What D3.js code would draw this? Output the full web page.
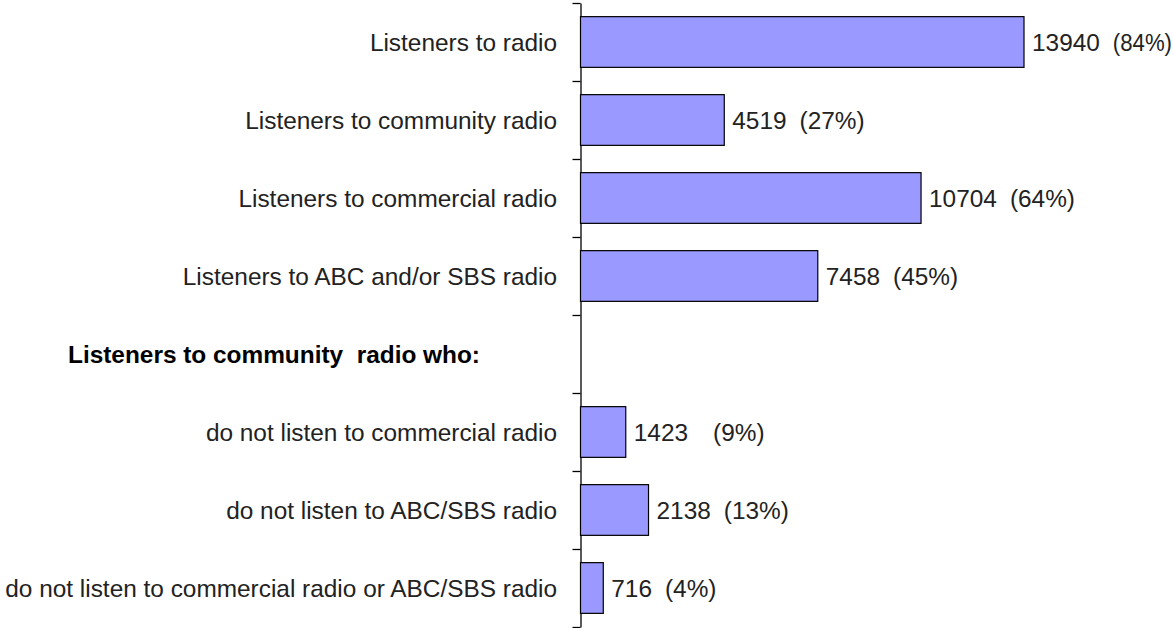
<!DOCTYPE html>
<html>
<head>
<meta charset="utf-8">
<script src="https://cdn.jsdelivr.net/npm/d3@7"></script>
<style>
  html, body { margin: 0; padding: 0; background: #fff; }
  svg { display: block; font-family: "Liberation Sans", Arial, sans-serif; }
</style>
</head>
<body>
<div id="chart"></div>
<script>
// rows top to bottom; the heading row has no bar
var categories = [
  "Listeners to radio",
  "Listeners to community radio",
  "Listeners to commercial radio",
  "Listeners to ABC and/or SBS radio",
  "Listeners to community  radio who:",
  "do not listen to commercial radio",
  "do not listen to ABC/SBS radio",
  "do not listen to commercial radio or ABC/SBS radio"
];
var values = [13940, 4519, 10704, 7458, null, 1423, 2138, 716];
var percents = ["(84%)", "(27%)", "(64%)", "(45%)", null, "(9%)", "(13%)", "(4%)"];
var headingRow = 4;

var width = 1174, height = 628;
var axisX = 580.5;
var fontSize = 24.4;

var rows = categories.map(function(c, i) {
  return {i: i, label: c, value: values[i], pct: percents[i]};
});

var svg = d3.select("#chart").append("svg")
  .attr("width", width)
  .attr("height", height);

var y = d3.scaleBand()
  .domain(d3.range(categories.length))
  .range([3, 627])
  .paddingInner(0.35)
  .paddingOuter(0.175);

var x = d3.scaleLinear()
  .domain([0, 13940])
  .range([axisX, 1024]);

// tick marks sit between the rows
var yTicks = d3.scaleLinear()
  .domain([0, categories.length])
  .range([3, 627]);

svg.append("g")
  .attr("id", "y-axis")
  .attr("transform", "translate(" + axisX + ",0)")
  .call(d3.axisLeft(yTicks)
    .tickValues(d3.range(categories.length + 1))
    .tickSize(8)
    .tickSizeOuter(0)
    .tickFormat(""))
  .call(function(g) {
    g.select(".domain").attr("stroke", "#000").attr("stroke-width", 1.3);
    g.selectAll(".tick line").attr("stroke", "#000").attr("stroke-width", 1.3);
  });

// category labels
svg.append("g").selectAll("text")
  .data(rows)
  .enter()
  .append("text")
  .attr("x", function(d) { return d.i === headingRow ? 68 : 557; })
  .attr("y", function(d) { return y(d.i) + y.bandwidth() / 2; })
  .attr("dy", "0.36em")
  .attr("text-anchor", function(d) { return d.i === headingRow ? "start" : "end"; })
  .attr("font-size", fontSize)
  .attr("font-weight", function(d) { return d.i === headingRow ? "bold" : "normal"; })
  .attr("fill", function(d) { return d.i === headingRow ? "#000" : "#222"; })
  .style("white-space", "pre")
  .text(function(d) { return d.label; });

var barRows = rows.filter(function(d) { return d.value != null; });

svg.append("g").selectAll("rect")
  .data(barRows)
  .enter()
  .append("rect")
  .attr("x", x(0))
  .attr("y", function(d) { return y(d.i); })
  .attr("width", function(d) { return x(d.value) - x(0); })
  .attr("height", y.bandwidth())
  .attr("fill", "#9999ff")
  .attr("stroke", "#000")
  .attr("stroke-width", 1.2);

// value and percent labels
var lbl = svg.append("g").selectAll("g")
  .data(barRows)
  .enter()
  .append("g")
  .attr("transform", function(d) {
    return "translate(" + (x(d.value) + 8) + "," + (y(d.i) + y.bandwidth() / 2) + ")";
  });

lbl.append("text")
  .attr("class", "val")
  .attr("dy", "0.36em")
  .attr("font-size", fontSize)
  .attr("fill", "#222")
  .text(function(d) { return d.value; });

lbl.append("text")
  .attr("dy", "0.36em")
  .attr("font-size", fontSize)
  .attr("fill", "#222")
  .attr("x", function(d) {
    var w = this.parentNode.querySelector(".val").getComputedTextLength();
    d.px = w + (d.pct.length === 4 && String(d.value).length === 4 ? 25 : 13);
    return d.px;
  })
  .text(function(d) { return d.pct; })
  .each(function(d) {
    // squeeze the label a little if it would run past the right edge
    var room = width - 2 - (x(d.value) + 8 + d.px);
    if (this.getComputedTextLength() > room) {
      d3.select(this).attr("textLength", room).attr("lengthAdjust", "spacingAndGlyphs");
    }
  });
</script>
</body>
</html>
